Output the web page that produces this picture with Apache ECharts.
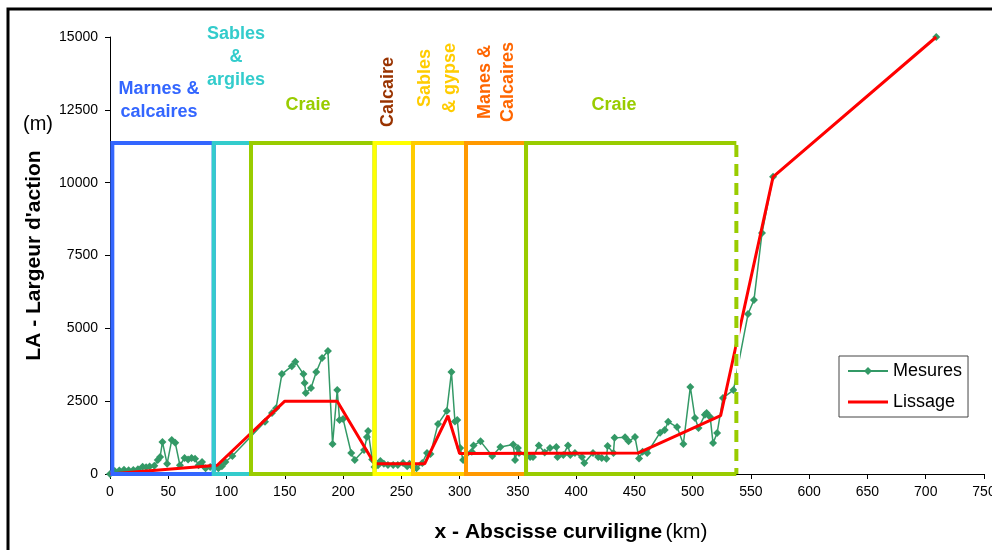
<!DOCTYPE html>
<html>
<head>
	<meta charset="utf-8">
	<script src="https://cdn.jsdelivr.net/npm/echarts@6/dist/echarts.min.js"></script>
</head>
<body style="margin:0">
	<div id="main" style="width: 992px; height: 550px;"></div>
<script type="text/javascript">
// Mesures : abscisse curviligne (km) / largeur d'action (m)
var mesX = [0, 4, 8, 12, 16, 20, 24, 28, 31, 34, 38, 41, 43, 45, 49, 53, 56, 60, 64, 67, 70, 73, 76, 79, 82, 86, 90, 93, 96, 99,
	105, 133, 139, 142.5, 147.5, 156, 159, 166, 167, 168, 172.5, 177, 182, 187, 191, 195, 197, 200, 207, 210,
	218, 220.5, 221.5, 225, 227, 230, 232, 235, 238.5, 243, 247, 251.5, 255, 257, 260, 263, 268, 272, 275, 281.5,
	289, 293, 296, 298, 300.5, 303, 310.5, 312, 318, 328, 335, 346, 347.6, 350, 351, 360.5, 363, 368, 373, 377.6,
	383, 384, 389, 393, 395, 399, 405, 407, 414.5, 419, 422, 426, 427, 432, 433, 442, 445, 450.5, 454, 457,
	461, 472, 476, 479, 486.6, 492, 498, 502, 505, 510.5, 512, 515, 517.5, 521, 526, 535, 547.5, 552.6, 559.5, 569, 709];
var mesY = [0, 100, 120, 150, 130, 140, 160, 250, 230, 260, 280, 480, 580, 1100, 350, 1170, 1070, 300, 550, 500, 550, 520, 300, 410, 200, 240, 220, 200, 270, 410,
	620, 1790, 2090, 2260, 3430, 3700, 3850, 3430, 3120, 2780, 2950, 3500, 3980, 4220, 1030, 2880, 1850, 1890, 720, 480,
	820, 1270, 1480, 500, 240, 300, 450, 350, 310, 310, 310, 380, 270, 350, 230, 200, 380, 720, 690, 1720,
	2160, 3500, 1800, 1850, 890, 480, 760, 980, 1120, 620, 930, 1010, 480, 890, 720, 580, 580, 980, 740, 890,
	930, 580, 650, 980, 650, 720, 580, 380, 720, 580, 550, 520, 960, 720, 1240, 1260, 1120, 1270, 530, 760,
	720, 1420, 1510, 1790, 1610, 1030, 2990, 1920, 1580, 2030, 2090, 1960, 1060, 1410, 2610, 2880, 5490, 5970, 8270, 10200, 15000];

// Lissage
var lisX = [0, 92, 150, 195, 227, 270, 290, 300, 453, 524, 569, 709];
var lisY = [0, 300, 2500, 2500, 350, 350, 2000, 700, 720, 2000, 10200, 15000];

// zones geologiques (km)
var zoneStart = [2, 89, 121, 227, 260, 305.5, 357];
var zoneEnd = [89, 121, 227, 260, 305.5, 357, 537.5];
var zoneTop = 11360;
var zoneColors = ['#3366FF', '#33CCCC', '#99CC00', '#FFFF00', '#FFCC00', '#FF9900', '#99CC00'];

var myChart = echarts.init(document.getElementById('main'));

var zoneData = [];
for (var i = 0; i < zoneStart.length; i++) {
	zoneData.push([zoneStart[i], zoneEnd[i], zoneTop]);
}

function pairs(xs, ys) {
	var res = [];
	for (var i = 0; i < xs.length; i++) {
		res.push([xs[i], ys[i]]);
	}
	return res;
}

function renderZone(params, api) {
	var i = params.dataIndex;
	var bl = api.coord([api.value(0), 0]);
	var tr = api.coord([api.value(1), api.value(2)]);
	var col = zoneColors[i];
	var children = [];
	if (i < zoneStart.length - 1) {
		children.push({
			type: 'rect',
			shape: {x: bl[0], y: tr[1], width: tr[0] - bl[0], height: bl[1] - tr[1]},
			style: {fill: 'none', stroke: col, lineWidth: 4}
		});
	} else {
		// derniere zone : bord droit en pointille
		children.push({
			type: 'polyline',
			shape: {points: [[tr[0], bl[1]], [bl[0], bl[1]], [bl[0], tr[1]], [tr[0], tr[1]]]},
			style: {fill: 'none', stroke: col, lineWidth: 4}
		});
		children.push({
			type: 'line',
			shape: {x1: tr[0] + 2, y1: tr[1], x2: tr[0] + 2, y2: bl[1]},
			style: {stroke: '#fff', lineWidth: 3}
		});
		children.push({
			type: 'line',
			shape: {x1: tr[0], y1: tr[1] + 2, x2: tr[0], y2: bl[1]},
			style: {stroke: col, lineWidth: 4, lineDash: [12, 7]}
		});
	}
	return {type: 'group', children: children};
}

var fontFam = '"Liberation Sans", Arial, sans-serif';
var labelFont = 'bold 18px ' + fontFam;

option = {
	backgroundColor: '#fff',
	animation: false,
	textStyle: {fontFamily: fontFam},
	grid: {left: 110, right: 8, top: 37, bottom: 76, outerBoundsMode: 'none', containLabel: false},
	legend: {
		data: ['Mesures', {name: 'Lissage', icon: 'path://M0,0 L40,0 L40,3 L0,3 Z'}],
		orient: 'vertical',
		left: 839,
		top: 356,
		padding: [6, 6, 6, 8],
		itemWidth: 40,
		itemHeight: 10,
		itemGap: 13,
		borderColor: '#444',
		borderWidth: 1,
		borderRadius: 0,
		textStyle: {fontSize: 18, color: '#000'}
	},
	xAxis: {
		type: 'value',
		min: 0,
		max: 750,
		interval: 50,
		splitLine: {show: false},
		axisLine: {lineStyle: {color: '#000', width: 1}},
		axisTick: {inside: false, length: 5, lineStyle: {color: '#000'}},
		axisLabel: {color: '#000', fontSize: 14, margin: 11, formatter: function (v) { return String(v); }}
	},
	yAxis: {
		type: 'value',
		min: 0,
		max: 15000,
		interval: 2500,
		name: "LA - Largeur d'action",
		nameLocation: 'middle',
		nameRotate: 90,
		nameGap: 65,
		nameTextStyle: {color: '#000', fontSize: 21, fontWeight: 'bold'},
		splitLine: {show: false},
		axisLine: {show: true, lineStyle: {color: '#000', width: 1}},
		axisTick: {show: true, length: 5, lineStyle: {color: '#000'}},
		axisLabel: {color: '#000', fontSize: 14, margin: 12, formatter: function (v) { return String(v); }}
	},
	graphic: [
		{type: 'rect', shape: {x: 8, y: 9, width: 1000, height: 560}, style: {fill: 'none', stroke: '#000', lineWidth: 3}, silent: true},
		{type: 'text', x: 38, y: 124, style: {text: '(m)', font: '20px ' + fontFam, fill: '#000', textAlign: 'center', textVerticalAlign: 'middle'}},
		{type: 'text', x: 571, y: 532, style: {
			text: '{b|x - Abscisse curviligne} {n|(km)}',
			textAlign: 'center', textVerticalAlign: 'middle',
			rich: {
				b: {fontSize: 21, fontWeight: 'bold', fill: '#000', fontFamily: fontFam},
				n: {fontSize: 21, fill: '#000', fontFamily: fontFam}
			}
		}},
		{type: 'text', x: 159, y: 101, style: {text: 'Marnes &\ncalcaires', font: labelFont, lineHeight: 23, fill: '#3366FF', textAlign: 'center', textVerticalAlign: 'middle'}},
		{type: 'text', x: 236, y: 57, style: {text: 'Sables\n&\nargiles', font: labelFont, lineHeight: 23, fill: '#33CCCC', textAlign: 'center', textVerticalAlign: 'middle'}},
		{type: 'text', x: 308, y: 105, style: {text: 'Craie', font: labelFont, fill: '#99CC00', textAlign: 'center', textVerticalAlign: 'middle'}},
		{type: 'text', x: 388, y: 92, rotation: Math.PI / 2, style: {text: 'Calcaire', font: labelFont, fill: '#993300', textAlign: 'center', textVerticalAlign: 'middle'}},
		{type: 'text', x: 438, y: 78, rotation: Math.PI / 2, style: {text: 'Sables\n& gypse', font: labelFont, lineHeight: 25, fill: '#FFCC00', textAlign: 'center', textVerticalAlign: 'middle'}},
		{type: 'text', x: 497, y: 82, rotation: Math.PI / 2, style: {text: 'Manes &\nCalcaires', font: labelFont, lineHeight: 23, fill: '#FF6600', textAlign: 'center', textVerticalAlign: 'middle'}},
		{type: 'text', x: 614, y: 105, style: {text: 'Craie', font: labelFont, fill: '#99CC00', textAlign: 'center', textVerticalAlign: 'middle'}}
	],
	series: [
		{
			name: 'Mesures',
			type: 'line',
			data: pairs(mesX, mesY),
			symbol: 'diamond',
			symbolSize: 8,
			showAllSymbol: true,
			lineStyle: {color: '#339966', width: 1.5},
			itemStyle: {color: '#339966'},
			z: 2
		},
		{
			name: 'Lissage',
			type: 'line',
			data: pairs(lisX, lisY),
			symbol: 'none',
			lineStyle: {color: '#FF0000', width: 3},
			itemStyle: {color: '#FF0000'},
			z: 3
		},
		{
			name: 'zones',
			type: 'custom',
			renderItem: renderZone,
			data: zoneData,
			encode: {x: [0, 1], y: 2},
			silent: true,
			z: 4
		}
	]
};

myChart.setOption(option);
</script>
</body>
</html>
